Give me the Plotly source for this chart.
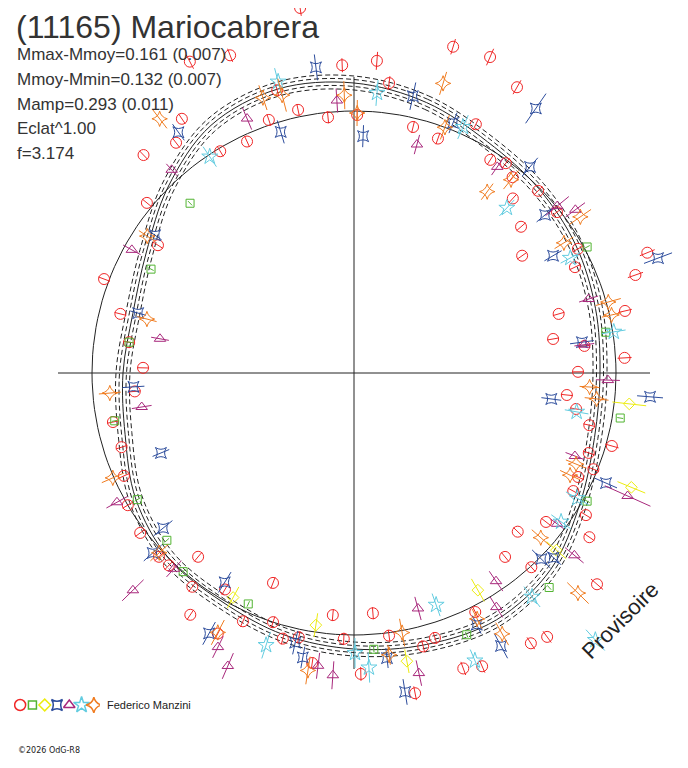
import numpy as np
import plotly.graph_objects as go

# polar lightcurve: angle = rotation phase (deg, clockwise from top), radius = brightness level
fit_theta = [0, 15, 30, 45, 60, 75, 90, 105, 120, 135, 150, 165,
             180, 195, 210, 225, 240, 255, 270, 285, 300, 315, 330, 345]
fit_r = [290, 280, 267, 261, 256, 250, 246, 249, 261, 278, 285, 281,
         276, 271, 264, 262, 252, 237, 231, 229, 240, 263, 286, 294]
envelope_offsets = [-7, -3.5, 3.5, 7]
mean_level = 262
axis_len = 296

red_theta = [338.7, 332.2, 357.8, 344.8, 348.0, 354.2, 341.4, 335.2, 328.9, 325.9,
             322.3, 316.0, 309.4, 303.1, 290.6, 284.2, 277.8, 271.4, 351.6,
             16.9, 23.3, 4.2, 29.7, 6.9, 0.7, 13.5, 19.7, 26.1, 32.6,
             35.9, 39.0, 45.3, 42.3, 51.6, 48.8, 61.0, 55.1, 64.4, 67.7,
             70.8, 77.1, 73.9, 80.3, 83.3, 86.8, 89.7,
             95.9, 99.2, 102.5, 105.8, 108.8, 111.9, 114.9, 118.3, 121.5, 124.9,
             127.8, 134.1, 140.6, 137.6, 131.0, 153.1, 146.8, 143.8, 175.5, 163.0,
             165.8, 172.4, 159.7, 156.4, 178.7, 169.2,
             265.2, 258.5, 252.3, 245.9, 239.7, 233.2, 226.7, 220.3, 223.9, 217.1,
             210.8, 201.1, 214.1, 204.1, 207.6, 198.0, 185.0, 195.0, 191.8, 188.2, 182.2]
red_r = [341, 352, 308, 293, 269, 257, 267, 255, 259, 307,
         291, 303, 268, 234, 267, 241, 227, 211, 369,
         341, 344, 313, 329, 292, 258, 253, 249, 277, 253,
         259, 252, 259, 236, 259, 222, 256, 205, 245, 317,
         298, 278, 213, 202, 232, 271, 224,
         214, 225, 241, 268, 248, 258, 247, 249, 272, 287,
         243, 228, 238, 263, 322, 268, 323, 327, 241, 277,
         282, 265, 315, 320, 301, 326,
         220, 246, 244, 252, 262, 267, 268, 241, 267, 268,
         252, 225, 292, 272, 294, 262, 243, 275, 270, 293, 266]
red_err = [7, 8, 7, 6, 6, 6, 6, 6, 6, 6, 6, 6, 6, 6, 6, 6, 6, 6, 8,
           8, 9, 9, 8, 7, 6, 6, 6, 6, 6, 6, 6, 6, 6, 6, 6, 6, 6, 6, 8,
           8, 7, 6, 6, 6, 7, 6,
           6, 6, 6, 7, 6, 6, 6, 6, 6, 6, 6, 6, 6, 6, 8, 6, 7, 7, 6, 6,
           6, 6, 7, 7, 7, 7,
           6, 6, 6, 6, 6, 6, 6, 6, 6, 6, 6, 6, 6, 6, 6, 6, 6, 6, 6, 6, 6]

green_theta = [316.0, 297.1, 277.8, 61.6, 80.8, 99.6, 118.8, 137.7, 156.7, 175.9,
               258.7, 239.7, 228.2, 220.7, 204.6]
green_r = [236, 228, 227, 265, 255, 270, 266, 290, 285, 277, 244, 251, 251, 262, 254]
green_err = [3, 3, 3, 3, 3, 3, 3, 3, 3, 3, 3, 3, 3, 3, 3]

yellow_theta = [96.4, 112.4, 131.2, 150.3, 169.6, 208.3, 188.6]
yellow_r = [277, 300, 269, 250, 293, 255, 255]
yellow_err = [17, 15, 13, 13, 12, 12, 12]

blue_theta = [352.9, 343.1, 323.9, 304.7, 285.5, 12.0, 34.5, 2.2, 21.6, 40.5,
              50.4, 59.5, 69.3, 82.3, 97.5, 94.6, 113.6, 134.8, 132.8, 154.0,
              151.7, 173.4, 170.9, 266.4, 247.5, 230.9, 228.2, 211.7, 209.1, 192.3, 190.2]
blue_r = [308, 252, 298, 242, 224, 283, 321, 237, 269, 271,
          248, 231, 325, 230, 199, 297, 275, 264, 272, 280,
          310, 287, 323, 221, 209, 246, 270, 246, 298, 276, 289]
blue_err = [13, 12, 10, 8, 8, 14, 18, 11, 11, 12,
            11, 10, 15, 12, 10, 13, 12, 13, 10, 10,
            14, 10, 13, 11, 9, 12, 12, 12, 13, 12, 11]

magenta_theta = [356.4, 337.2, 318.1, 299.0, 280.0, 15.4, 34.8, 50.6, 53.6, 72.5,
                 83.0, 91.6, 110.6, 114.2, 126.6, 129.6, 145.7, 148.7, 164.8, 167.8,
                 260.9, 241.4, 222.6, 225.5, 206.4, 203.3, 187.0, 184.0]
magenta_r = [273, 276, 273, 254, 197, 237, 251, 263, 275, 246,
             232, 254, 236, 300, 253, 286, 252, 274, 244, 307,
             215, 270, 266, 310, 306, 319, 295, 303]
magenta_err = [12, 12, 8, 10, 9, 10, 10, 15, 12, 10,
               10, 12, 10, 25, 8, 12, 12, 12, 12, 13,
               10, 12, 11, 15, 12, 14, 13, 14]

cyan_theta = [345.4, 326.3, 4.7, 23.9, 42.8, 62.0, 81.0, 99.9, 119.3, 125.7,
              141.5, 137.9, 160.5, 157.2, 177.1, 179.8, 197.9]
cyan_r = [301, 260, 281, 269, 225, 245, 263, 226, 256, 255,
          286, 360, 246, 312, 295, 280, 286]
cyan_err = [14, 12, 13, 13, 11, 11, 12, 12, 13, 12, 13, 14, 12, 12, 15, 15, 14]

orange_theta = [345.5, 341.7, 358.0, 322.6, 303.5, 284.6, 17.1, 0.7, 20.3, 39.1,
                36.3, 55.4, 58.2, 74.4, 77.3, 93.4, 96.1, 112.3, 115.3, 131.4,
                134.5, 153.4, 150.4, 169.5, 172.9, 265.3, 246.5, 227.3, 207.7, 188.8]
orange_r = [287, 290, 278, 320, 248, 214, 303, 260, 262, 249,
            225, 275, 247, 264, 264, 236, 244, 240, 239, 249,
            314, 275, 300, 264, 284, 245, 263, 265, 293, 301]
orange_err = [17, 13, 14, 12, 10, 10, 12, 13, 13, 12,
              10, 13, 11, 13, 10, 10, 12, 11, 11, 12,
              15, 11, 13, 14, 10, 11, 12, 12, 14, 14]

session_names = ["s1", "s2", "s3", "s4", "s5", "s6", "s7"]
observer = "Federico Manzini"

stats_lines = ["Mmax-Mmoy=0.161 (0.007)", "Mmoy-Mmin=0.132 (0.007)",
               "Mamp=0.293 (0.011)", "Eclat^1.00", "f=3.174"]

series = [
    ("#f02828", "circle-open", 11, red_theta, red_r, red_err),
    ("#52b432", "square-open", 8, green_theta, green_r, green_err),
    ("#ecec10", "diamond-open", 9, yellow_theta, yellow_r, yellow_err),
    ("#2c4c9c", "star-square-open", 10, blue_theta, blue_r, blue_err),
    ("#a8287c", "triangle-up-open", 10, magenta_theta, magenta_r, magenta_err),
    ("#62cce0", "star-open", 12, cyan_theta, cyan_r, cyan_err),
    ("#f07c20", "star-diamond-open", 11, orange_theta, orange_r, orange_err),
]

W, H = 688, 768
PAGE = 8  # the page body margin shifts the figure by this much


def to_xy(theta, r):
    t = np.radians(np.asarray(theta, dtype=float))
    r = np.asarray(r, dtype=float)
    return r * np.sin(t), r * np.cos(t)


def px(x):
    return (x - PAGE) / W


def py(y):
    return 1 - (y - PAGE) / H


fig = go.Figure()

# cross hair
for a, b in [(270, 90), (0, 180)]:
    x, y = to_xy([a, b], [axis_len, axis_len])
    fig.add_trace(go.Scatter(x=x, y=y, mode="lines", line=dict(color="#222", width=1),
                             hoverinfo="skip"))

# mean level circle
circ_t = np.arange(0, 361, 2)
x, y = to_xy(circ_t, np.full(circ_t.shape, mean_level))
fig.add_trace(go.Scatter(x=x, y=y, mode="lines", line=dict(color="#222", width=1)))

# fitted curve and its uncertainty envelope
ft = fit_theta + [fit_theta[0] + 360]
fr = np.array(fit_r + [fit_r[0]], dtype=float)
for off in envelope_offsets:
    x, y = to_xy(ft, fr + off)
    fig.add_trace(go.Scatter(x=x, y=y, mode="lines",
                             line=dict(color="#222", width=1, dash="5px,3px", shape="spline")))
x, y = to_xy(ft, fr)
fig.add_trace(go.Scatter(x=x, y=y, mode="lines",
                         line=dict(color="#222", width=1, shape="spline")))

# measurements with radial error bars
for color, symbol, size, th, rr, ee in series:
    xs, ys = [], []
    for t, r, e in zip(th, rr, ee):
        sx, sy = to_xy([t, t], [r - e, r + e])
        xs += [sx[0], sx[1], None]
        ys += [sy[0], sy[1], None]
    fig.add_trace(go.Scatter(x=xs, y=ys, mode="lines", line=dict(color=color, width=1)))
    x, y = to_xy(th, rr)
    fig.add_trace(go.Scatter(x=x, y=y, mode="markers",
                             marker=dict(symbol=symbol, size=size, color=color,
                                         line=dict(color=color, width=1))))

# observer key
for name, (color, symbol, size, *_rest) in zip(session_names, series):
    fig.add_trace(go.Scatter(x=[name], y=[0], xaxis="x2", yaxis="y2", mode="markers",
                             marker=dict(symbol=symbol, size=size, color=color,
                                         line=dict(color=color, width=1.5))))

font = "Liberation Sans, Arial"
annotations = [
    dict(text="(11165) Mariocabrera", x=px(15), y=1, xref="paper", yref="paper",
         xanchor="left", yanchor="top", showarrow=False, borderpad=0,
         font=dict(family=font, size=32, color="#333")),
    dict(text=observer, x=px(105), y=py(705), xref="paper", yref="paper",
         xanchor="left", yanchor="middle", showarrow=False,
         font=dict(family=font, size=11, color="#222")),
    dict(text="\u00a92026 OdG-R8", x=px(16), y=py(750), xref="paper", yref="paper",
         xanchor="left", yanchor="middle", showarrow=False,
         font=dict(family="DejaVu Sans, Arial", size=8, color="#222")),
    dict(text="Provisoire", x=px(620), y=py(620), xref="paper", yref="paper",
         xanchor="center", yanchor="middle", showarrow=False, textangle=-45,
         font=dict(family=font, size=22, color="#222")),
]
for i, line in enumerate(stats_lines):
    annotations.append(dict(text=line, x=px(15), y=py(55 + 24.6 * i),
                            xref="paper", yref="paper", xanchor="left", yanchor="middle",
                            showarrow=False,
                            font=dict(family=font, size=17, color="#333")))

cx, cy = 354, 373  # page position of the pole
fig.update_layout(
    width=W, height=H,
    margin=dict(l=0, r=0, t=0, b=0),
    paper_bgcolor="white", plot_bgcolor="white",
    showlegend=False,
    xaxis=dict(range=[-(cx - PAGE), W - (cx - PAGE)], visible=False, domain=[0, 1]),
    yaxis=dict(range=[-(H - (cy - PAGE)), cy - PAGE], visible=False, domain=[0, 1]),
    xaxis2=dict(domain=[px(14), px(100)], type="category", range=[-0.5, 6.5],
                visible=False, anchor="y2"),
    yaxis2=dict(domain=[py(716), py(694)], range=[-1, 1], visible=False, anchor="x2"),
    annotations=annotations,
)

fig.write_html("out.html")
